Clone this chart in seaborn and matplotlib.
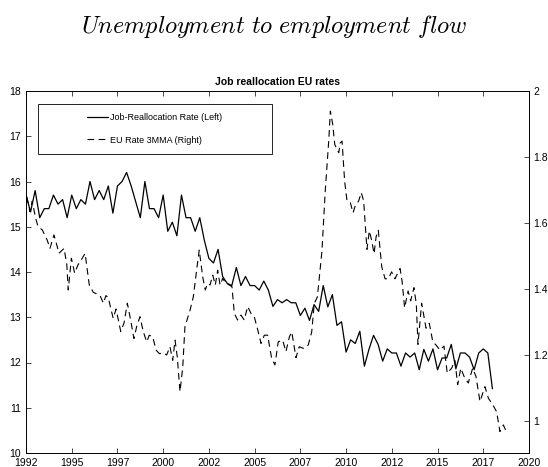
import numpy as np
import matplotlib
matplotlib.use("Agg")
import matplotlib.pyplot as plt
from matplotlib.patches import Rectangle
from matplotlib.ticker import FormatStrFormatter
import seaborn as sns

# Job reallocation rate, quarterly, first plotted quarter = 1992Q3 (left axis)
jr_start = 1992.5
jr_rate = [15.7, 15.33, 15.8, 15.2, 15.4, 15.4, 15.7, 15.5, 15.6, 15.2,
           15.7, 15.4, 15.6, 15.5, 16.0, 15.6, 15.8, 15.6, 15.9, 15.3,
           15.9, 16.0, 16.2, 15.9, 15.55, 15.2, 16.0, 15.4, 15.4, 15.2,
           15.7, 14.9, 15.1, 14.8, 15.7, 15.2, 15.2, 14.9, 15.2, 14.7,
           14.3, 14.2, 14.5, 13.9, 13.75, 13.7, 14.1, 13.7, 13.9, 13.7,
           13.7, 13.6, 13.8, 13.6, 13.24, 13.39, 13.32, 13.39, 13.32, 13.32,
           13.04, 13.2, 12.93, 13.28, 13.13, 13.7, 13.23, 13.5, 12.82, 12.9,
           12.23, 12.5, 12.42, 12.69, 11.92, 12.29, 12.6, 12.4, 12.03, 12.3,
           12.21, 12.21, 11.92, 12.21, 12.12, 12.21, 11.84, 12.29, 12.03, 12.3,
           11.84, 12.1, 12.1, 12.4, 11.86, 12.21, 12.21, 12.12, 11.84, 12.21,
           12.3, 12.21, 11.42]
jr_years = jr_start + 0.25 * np.arange(len(jr_rate))

# EU rate 3MMA (right axis), turning points
eu_years = [1992.54, 1992.72, 1992.84, 1993.03, 1993.16, 1993.39, 1993.66, 1993.81,
            1994.03, 1994.21, 1994.30, 1994.58, 1994.73, 1994.81, 1994.98, 1995.16,
            1995.34, 1995.52, 1995.73, 1995.96, 1996.18, 1996.37, 1996.55, 1996.73,
            1996.87, 1997.00, 1997.13, 1997.27, 1997.42, 1997.55, 1997.68, 1997.86,
            1998.04, 1998.22, 1998.40, 1998.55, 1998.73, 1998.91, 1999.10, 1999.24,
            1999.43, 1999.61, 1999.79, 2000.01, 2000.19, 2000.37, 2000.52, 2000.65,
            2000.77, 2000.92, 2001.07, 2001.19, 2001.47, 2001.65, 2001.83, 2001.97,
            2002.16, 2002.30, 2002.43, 2002.56, 2002.71, 2002.85, 2002.98, 2003.11,
            2003.25, 2003.43, 2003.62, 2003.76, 2003.89, 2004.07, 2004.25, 2004.43,
            2004.62, 2004.80, 2004.98, 2005.17, 2005.35, 2005.53, 2005.71, 2005.93,
            2006.11, 2006.29, 2006.53, 2006.71, 2006.90, 2007.03, 2007.26, 2007.44,
            2007.66, 2007.93, 2008.12, 2008.26, 2008.43, 2008.57, 2008.68, 2008.86,
            2009.05, 2009.14, 2009.27, 2009.38, 2009.50, 2009.60, 2009.68, 2009.78,
            2009.92, 2010.05, 2010.23, 2010.38, 2010.50, 2010.69, 2010.83, 2010.96,
            2011.14, 2011.27, 2011.40, 2011.53, 2011.64, 2011.76, 2011.95, 2012.13,
            2012.31, 2012.49, 2012.67, 2012.95, 2013.06, 2013.20, 2013.39, 2013.53,
            2013.71, 2013.84, 2013.93, 2014.13, 2014.37, 2014.55, 2014.74, 2014.92,
            2015.13, 2015.35, 2015.53, 2015.77, 2015.95, 2016.10, 2016.27, 2016.45,
            2016.68, 2016.92, 2017.10, 2017.32, 2017.59, 2017.78, 2018.02, 2018.23,
            2018.41, 2018.60, 2018.81]
eu_rate = [1.68, 1.634, 1.666, 1.614, 1.589, 1.579, 1.548, 1.523,
           1.564, 1.528, 1.508, 1.523, 1.475, 1.397, 1.493, 1.448,
           1.473, 1.488, 1.508, 1.412, 1.39, 1.385, 1.38, 1.357,
           1.38, 1.374, 1.342, 1.311, 1.339, 1.306, 1.271, 1.297,
           1.357, 1.306, 1.25, 1.286, 1.316, 1.271, 1.24, 1.26,
           1.255, 1.215, 1.204, 1.206, 1.2, 1.225, 1.184, 1.245,
           1.194, 1.089, 1.164, 1.286, 1.336, 1.377, 1.458, 1.518,
           1.437, 1.397, 1.417, 1.412, 1.442, 1.412, 1.457, 1.412,
           1.432, 1.417, 1.412, 1.407, 1.326, 1.306, 1.321, 1.306,
           1.347, 1.326, 1.316, 1.276, 1.235, 1.26, 1.26, 1.19,
           1.17, 1.24, 1.245, 1.21, 1.255, 1.27, 1.192, 1.225,
           1.22, 1.23, 1.27, 1.356, 1.376, 1.452, 1.515, 1.697,
           1.848, 1.939, 1.899, 1.838, 1.823, 1.813, 1.843, 1.848,
           1.727, 1.667, 1.662, 1.631, 1.652, 1.667, 1.692, 1.667,
           1.52, 1.576, 1.547, 1.507, 1.558, 1.578, 1.467, 1.431,
           1.431, 1.452, 1.431, 1.462, 1.424, 1.343, 1.394, 1.364,
           1.404, 1.354, 1.232, 1.357, 1.281, 1.296, 1.24, 1.23,
           1.215, 1.227, 1.145, 1.16, 1.183, 1.11, 1.16, 1.135,
           1.115, 1.16, 1.135, 1.059, 1.104, 1.069, 1.049, 1.028,
           0.968, 0.988, 0.961]

x_ticks = np.arange(1992.5, 2020.1, 2.5)
x_labels = ['1992', '1995', '1997', '2000', '2002', '2005',
            '2007', '2010', '2012', '2015', '2017', '2020']
left_ticks = np.arange(10, 19, 1)
right_ticks = [1, 1.2, 1.4, 1.6, 1.8, 2]
legend_labels = ['Job-Reallocation Rate (Left)', 'EU Rate 3MMA (Right)']

sns.set_style("white")
plt.rcParams['font.family'] = ['Liberation Sans', 'DejaVu Sans']
plt.rcParams['mathtext.fontset'] = 'cm'
plt.rcParams['text.color'] = 'black'
plt.rcParams['axes.labelcolor'] = 'black'
plt.rcParams['axes.edgecolor'] = 'black'
plt.rcParams['axes.linewidth'] = 0.6

fig = plt.figure(figsize=(5.48, 4.67), dpi=100)
ax = fig.add_axes([26 / 548, 14 / 467, 503 / 548, 362 / 467])
ax2 = ax.twinx()

sns.lineplot(x=jr_years, y=jr_rate, ax=ax, color='black', lw=0.9)
sns.lineplot(x=eu_years, y=eu_rate, ax=ax2, color='black', lw=0.8,
             linestyle=(0, (6, 4)))

ax.set_xlim(1992.5, 2020)
ax.set_ylim(10, 18)
ax2.set_ylim(0.903, 2.0)

ax.set_xticks(x_ticks)
ax.set_xticklabels(x_labels)
ax.set_yticks(left_ticks)
ax2.set_yticks(right_ticks)
ax2.yaxis.set_major_formatter(FormatStrFormatter('%g'))

ax.tick_params(axis='x', direction='in', length=3.5, width=0.5, top=True,
               bottom=True, labelsize=7.5, pad=3.5, colors='black')
ax.tick_params(axis='y', direction='in', length=3.5, width=0.5, left=True,
               right=False, labelsize=7.5, pad=3.5, colors='black')
ax2.tick_params(axis='y', direction='in', length=3.5, width=0.5, right=True,
                left=False, labelsize=7.5, pad=3, colors='black')
ax.set_xlabel('')
ax.set_ylabel('')
ax2.set_ylabel('')

ax.set_title('Job reallocation EU rates', fontweight='bold', fontsize=7.5,
             pad=4, color='black')

# legend box (MATLAB style, content centred)
ax2.add_patch(Rectangle((0.0239, 0.826), 0.465, 0.138, transform=ax2.transAxes,
                        facecolor='white', edgecolor='black', lw=0.6, zorder=4))
handles = [ax.lines[0], ax2.lines[0]]
leg = ax2.legend(handles, legend_labels, loc='center', bbox_to_anchor=(0.2565, 0.895),
                 frameon=False, fontsize=6.5, handlelength=2.3, handletextpad=0.25,
                 labelspacing=1.45, labelcolor='black')
leg.set_zorder(5)

fig.text(0.5, 1 - 26 / 467, r'$\mathit{Unemployment\ to\ employment\ flow}$',
         ha='center', va='center', fontsize=17.5, color='black')

fig.savefig('out.png', dpi=100)
